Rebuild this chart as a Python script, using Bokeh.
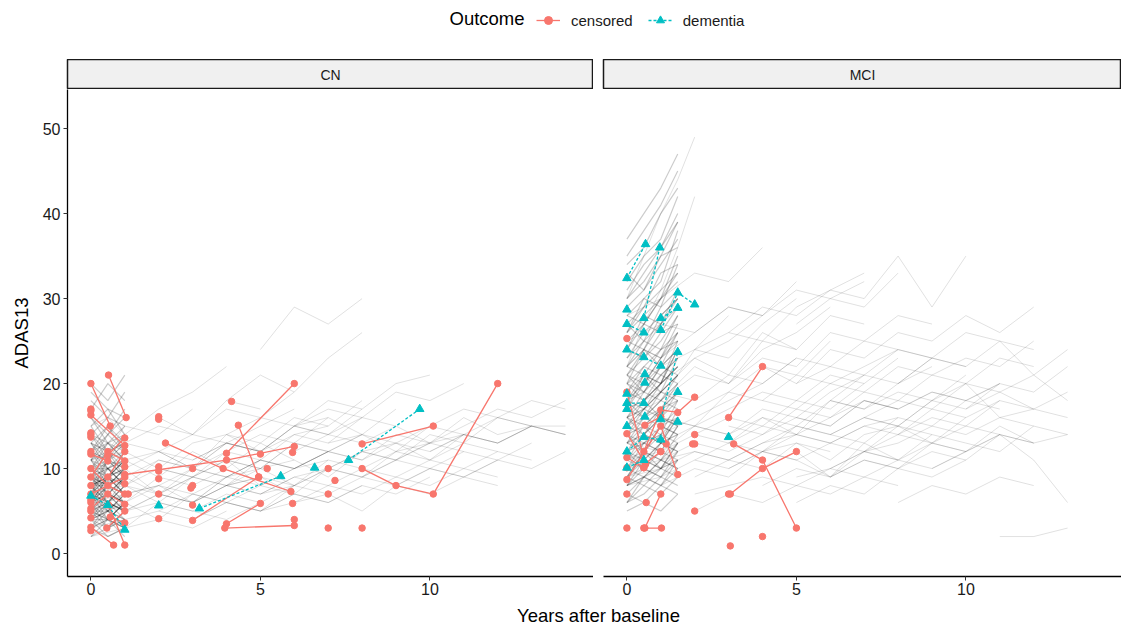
from bokeh.plotting import figure
from bokeh.models import Range1d, FixedTicker, Label, Legend, LegendItem, ColumnDataSource
from bokeh.layouts import column, row
from bokeh.embed import file_html
from bokeh.resources import INLINE

FONT = "Liberation Sans"
RED = "#F8766D"
TEAL = "#00BFC4"

panels = ["CN", "MCI"]
legend_title = "Outcome"
outcomes = ["censored", "dementia"]
x_label = "Years after baseline"
y_label = "ADAS13"
x_ticks = [0, 5, 10]
y_ticks = [0, 10, 20, 30, 40, 50]

# ---------------- background (all subjects) trajectories ----------------
visit_times = [0, 0.5, 1.0, 1.5]

cn_gray_short = [
    [6, 7, 5], [8, 9, 10], [4, 5, 3], [12, 10, 11], [9, 8, 9], [7, 6, 8], [5, 4, 6], [10, 12, 9],
    [14, 12, 13], [3, 4, 2], [6, 8, 7], [11, 9, 12], [8, 7, 6], [5, 7, 5], [9, 11, 10], [13, 15, 12],
    [7, 5, 7], [4, 3, 5], [16, 13, 14], [10, 8, 7], [6, 5, 4], [8, 10, 8], [12, 14, 16], [5, 6, 7],
    [9, 7, 9], [3, 5, 4], [7, 9, 11], [11, 10, 8], [6, 4, 6], [18, 16, 19], [8, 6, 9], [10, 11, 13],
    [4, 6, 5], [7, 8, 7], [15, 17, 14], [5, 3, 4], [9, 10, 8], [12, 11, 9], [6, 7, 6], [2, 3, 4],
    [17, 20, 18], [8, 9, 7], [11, 13, 12], [5, 5, 6], [7, 10, 9], [13, 11, 14], [4, 4, 3], [9, 6, 8],
    [20, 18, 21], [6, 9, 8], [10, 9, 11], [3, 2, 3], [14, 16, 15], [7, 7, 9], [8, 11, 10], [12, 9, 10],
    [7, 9, 8], [10, 7, 9], [5, 8, 6], [12, 13, 15], [8, 6, 5], [6, 6, 8], [9, 12, 11], [4, 7, 6],
    [11, 8, 10], [14, 13, 11], [3, 6, 5], [7, 4, 6], [10, 10, 12], [6, 9, 7], [13, 10, 11], [8, 8, 10],
    [5, 4, 3], [16, 14, 17], [9, 9, 7], [2, 4, 3], [11, 12, 10], [7, 6, 5], [15, 12, 13], [6, 8, 9],
    [8, 5, 7], [12, 15, 13], [4, 5, 7], [10, 13, 11], [9, 7, 6], [5, 6, 4], [19, 17, 16], [7, 11, 9],
    [3, 4, 6], [13, 12, 14], [8, 9, 11], [6, 3, 5], [11, 14, 12], [4, 2, 3], [9, 8, 10], [14, 11, 12],
]
cn_gray_long_t = [
    [0, 0.5, 1, 2, 3, 4], [0, 1, 2, 3, 4, 5, 6], [0, 0.5, 1, 2, 3, 4, 5, 6, 7], [0, 1, 2, 3],
    [0, 0.5, 1, 2, 3, 4, 5], [2, 3, 4, 5, 6, 7, 8], [0, 1, 2, 3, 4, 5, 6, 7, 8, 9, 10], [3, 4, 5, 6, 7],
    [0, 0.5, 1, 2, 3], [4, 5, 6, 7, 8, 9, 10, 11, 12], [0, 1, 2, 3, 4, 5, 6, 7, 8],
    [6, 7, 8, 9, 10, 11, 12, 13, 14], [0, 1, 2, 3, 4, 5], [2, 3, 4, 5, 6],
    [0, 1, 2, 3, 4, 5, 6, 7, 8, 9], [5, 6, 7, 8, 9, 10, 11, 12, 13, 14], [0, 0.5, 1, 2, 3, 4],
    [1, 2, 3, 4, 5, 6, 7], [3, 4, 5, 6, 7, 8, 9, 10], [0, 1, 2, 3, 4, 5, 6, 7], [5, 6, 7, 8],
    [7, 8, 9, 10, 11, 12, 13, 14], [0, 1, 2, 3, 4], [2, 3, 4, 5, 6, 7, 8, 9, 10, 11],
    [8, 9, 10, 11, 12, 13], [0, 0.5, 1, 2, 3, 4, 5, 6], [1, 2, 3, 4, 5, 6, 7, 8, 9, 10, 11, 12],
    [4, 5, 6, 7, 8, 9, 10], [9, 10, 11, 12, 13, 14], [0, 1, 2, 3, 4, 5, 6], [3, 4, 5, 6, 7, 8],
    [6, 7, 8, 9, 10, 11, 12], [0, 1, 2, 3, 4, 5, 6, 7, 8, 9, 10, 11], [2, 3, 4, 5],
    [10, 11, 12, 13, 14], [0, 0.5, 1, 2, 3, 4, 5, 6, 7], [5, 6, 7, 8, 9, 10, 11], [1, 2, 3, 4, 5, 6],
    [7, 8, 9, 10, 11, 12, 13], [0, 1, 2, 3, 4, 5, 6, 7, 8], [4, 5, 6, 7, 8], [11, 12, 13, 14],
    [0, 1, 2, 3, 4, 5, 6, 7, 8, 9, 10, 11, 12, 13], [1, 2, 3, 4, 5, 6, 7, 8], [3, 4, 5, 6, 7, 8, 9, 10, 11, 12, 13],
    [0, 0.5, 1, 2, 3, 4, 5], [2, 3, 4, 5, 6, 7, 8, 9], [5, 6, 7, 8, 9, 10, 11, 12], [0, 1, 2, 3, 4, 5, 6, 7],
    [4, 5, 6, 7, 8, 9, 10, 11, 12, 13, 14], [1, 2, 3, 4, 5], [6, 7, 8, 9, 10, 11],
]
cn_gray_long_v = [
    [7, 8, 6, 9, 8, 10], [5, 6, 4, 7, 6, 5, 8], [10, 9, 11, 12, 10, 13, 12, 14, 15], [8, 10, 7, 9],
    [4, 5, 3, 6, 5, 4, 6], [12, 10, 14, 13, 16, 15, 18], [6, 7, 8, 6, 9, 10, 8, 11, 10, 12, 13], [9, 11, 8, 10, 12],
    [13, 12, 15, 14, 17], [8, 9, 7, 10, 9, 12, 11, 13, 12], [3, 4, 5, 4, 6, 5, 7, 6, 8],
    [12, 14, 13, 15, 13, 16, 14, 15, 14], [9, 7, 8, 10, 9, 11], [5, 7, 6, 8, 7],
    [11, 12, 10, 13, 14, 12, 15, 16, 14, 17], [10, 11, 9, 12, 13, 11, 14, 13, 15, 15], [15, 16, 14, 17, 19, 22],
    [6, 8, 7, 9, 11, 10, 12], [4, 6, 5, 7, 6, 8, 7, 9], [8, 9, 11, 10, 12, 14, 13, 16], [24, 29, 27, 30],
    [13, 14, 12, 15, 17, 16, 18, 17], [2, 3, 4, 3, 5], [7, 6, 8, 9, 8, 10, 12, 11, 13, 14],
    [9, 11, 10, 12, 11, 13], [12, 11, 13, 12, 14, 13, 15, 17], [5, 6, 5, 7, 6, 8, 7, 9, 8, 10, 9, 11],
    [14, 16, 15, 18, 17, 20, 21], [8, 10, 9, 11, 10, 12], [10, 11, 9, 12, 10, 13, 11], [11, 13, 12, 15, 14, 17],
    [6, 7, 5, 8, 7, 9, 8], [7, 8, 6, 9, 8, 11, 10, 12, 11, 14, 13, 15], [16, 14, 18, 17],
    [12, 14, 13, 15, 14], [4, 6, 5, 7, 6, 9, 8, 10, 11], [7, 8, 10, 9, 11, 13, 12], [13, 15, 14, 17, 16, 19],
    [10, 12, 11, 14, 13, 16, 15], [9, 8, 10, 9, 11, 10, 13, 12, 14], [18, 21, 19, 23, 26], [15, 17, 16, 18],
    [8, 9, 7, 10, 9, 11, 10, 12, 11, 13, 12, 14, 13, 15], [10, 12, 11, 13, 12, 15, 14, 16], [6, 8, 7, 9, 8, 10, 9, 11, 10, 12, 11],
    [9, 10, 8, 11, 10, 13, 12], [10, 9, 12, 11, 14, 13, 16, 15], [5, 6, 8, 7, 9, 8, 10, 9], [6, 5, 7, 6, 8, 7, 9, 10],
    [11, 10, 13, 12, 14, 13, 15, 14, 16, 15, 14], [8, 7, 9, 8, 10], [15, 17, 16, 19, 18, 20],
]

mci_gray_short = [
    [15, 18, 20, 22], [10, 12, 11, 13], [20, 24, 28, 30], [8, 9, 10, 9], [25, 27, 30, 35], [12, 14, 13, 16],
    [18, 17, 19, 21], [6, 8, 7, 9], [22, 25, 24, 28], [14, 13, 15, 14], [30, 33, 36, 40], [9, 11, 10, 12],
    [16, 19, 18, 20], [11, 10, 12, 11], [28, 30, 32, 38], [13, 15, 17, 19], [19, 21, 20, 24], [7, 6, 8, 7],
    [24, 23, 26, 27], [17, 18, 16, 19], [35, 38, 41, 45], [10, 13, 12, 15], [21, 20, 23, 25], [12, 11, 13, 12],
    [16, 15, 17, 18], [26, 29, 31, 33], [9, 8, 10, 11], [18, 20, 22, 21], [14, 16, 15, 17], [32, 35, 37, 42],
    [8, 10, 9, 11], [20, 22, 21, 23], [15, 14, 16, 15], [23, 26, 28, 30], [11, 13, 14, 16], [27, 25, 29, 31],
    [13, 12, 14, 13], [19, 18, 20, 22], [6, 7, 9, 8], [17, 20, 23, 26], [22, 21, 24, 25], [10, 9, 11, 10],
    [29, 31, 34, 37], [14, 15, 13, 16], [16, 18, 20, 24], [5, 6, 5, 7], [21, 24, 22, 26], [12, 15, 14, 18],
    [33, 31, 35, 39], [18, 16, 17, 20], [9, 12, 11, 14], [24, 27, 26, 29],
    [13, 16, 18, 21], [20, 19, 22, 24], [8, 11, 10, 13], [26, 28, 27, 31], [15, 17, 16, 18], [11, 12, 15, 14],
    [31, 34, 36, 39], [18, 21, 19, 23], [9, 10, 9, 12], [23, 25, 27, 29], [14, 17, 19, 18], [7, 9, 8, 11],
    [27, 29, 33, 34], [16, 14, 17, 19], [12, 13, 12, 15], [21, 23, 25, 28], [10, 11, 13, 12], [34, 36, 40, 43],
    [17, 16, 18, 17], [25, 24, 27, 30], [13, 14, 16, 15], [19, 22, 24, 26], [6, 9, 8, 10], [22, 24, 23, 27],
    [15, 16, 19, 21], [28, 27, 30, 32], [11, 14, 13, 17], [18, 19, 21, 20], [24, 28, 30, 33], [9, 12, 10, 13],
    [20, 18, 21, 23], [14, 12, 15, 16], [30, 32, 35, 36], [12, 10, 13, 14], [16, 17, 20, 22], [26, 30, 29, 34],
    [8, 9, 11, 10], [21, 19, 22, 24], [17, 21, 20, 25], [37, 40, 43, 47],
]
mci_gray_long_t = [
    [0, 0.5, 1, 1.5, 2, 3], [0, 0.5, 1, 2, 3, 4, 5], [0, 1, 2, 3, 4, 5, 6, 7, 8], [1, 2, 3, 4, 5],
    [0, 0.5, 1, 1.5, 2], [2, 3, 4, 5, 6, 7], [0, 1, 2, 3, 4, 5, 6, 7, 8, 9, 10], [3, 4, 5, 6, 7, 8, 9],
    [4, 5, 6, 7, 8, 9, 10, 11], [0, 1, 2, 3, 4, 5, 6], [5, 6, 7, 8, 9, 10, 11, 12],
    [2, 3, 4, 5, 6, 7, 8, 9, 10], [6, 7, 8, 9, 10], [8, 9, 10, 11, 12, 13], [0, 1, 2, 3, 4, 5],
    [1, 2, 3, 4, 5, 6, 7, 8], [7, 8, 9, 10], [9, 10, 11, 12, 13], [10, 11, 12], [9, 10, 11, 12],
    [0, 0.5, 1, 2, 3, 4, 5, 6, 7, 8], [3, 4, 5, 6, 7, 8, 9, 10, 11], [0, 1, 2, 3, 4, 5, 6, 7],
    [5, 6, 7, 8, 9, 10, 11, 12, 13], [0, 0.5, 1, 2, 3, 4], [2, 3, 4, 5, 6, 7, 8], [4, 5, 6, 7, 8, 9],
    [1, 2, 3, 4, 5, 6, 7, 8, 9, 10], [6, 7, 8, 9, 10, 11, 12], [0, 1, 2, 3, 4, 5, 6, 7, 8, 9],
    [3, 4, 5, 6, 7], [7, 8, 9, 10, 11, 12, 13], [0, 1, 2, 3, 4], [8, 9, 10, 11, 12],
    [2, 3, 4, 5, 6, 7, 8, 9], [10, 11, 12, 13], [5, 6, 7, 8], [0, 1, 2, 3, 4, 5, 6, 7, 8, 9, 10, 11],
    [4, 5, 6, 7, 8, 9, 10], [11, 12, 13], [0, 0.5, 1, 1.5, 2],
    [0, 1, 2, 3, 4, 5, 6], [2, 3, 4, 5, 6, 7, 8, 9, 10, 11], [1, 2, 3, 4, 5, 6, 7],
    [3, 4, 5, 6, 7, 8, 9, 10, 11, 12], [4, 5, 6, 7, 8], [0, 0.5, 1, 2, 3, 4, 5], [5, 6, 7, 8, 9, 10, 11, 12],
    [6, 7, 8, 9, 10, 11], [2, 3, 4, 5, 6, 7], [7, 8, 9, 10, 11, 12, 13], [1, 2, 3, 4, 5, 6, 7, 8, 9],
    [3, 4, 5, 6, 7, 8, 9], [0, 1, 2, 3, 4, 5, 6, 7, 8], [8, 9, 10, 11, 12, 13], [4, 5, 6, 7, 8, 9, 10, 11, 12],
    [5, 6, 7, 8, 9, 10], [9, 10, 11, 12], [2, 3, 4, 5, 6], [6, 7, 8, 9, 10, 11, 12, 13], [0, 1, 2, 3, 4, 5, 6, 7],
]
mci_gray_long_v = [
    [15, 17, 19, 21, 24, 28], [12, 13, 14, 16, 18, 20, 23], [10, 11, 12, 11, 13, 14, 13, 15, 16], [18, 22, 20, 25, 24],
    [30, 35, 40, 44, 49], [14, 16, 15, 18, 17, 20], [8, 9, 11, 10, 12, 13, 11, 14, 15, 13, 16], [20, 23, 22, 26, 25, 28, 27],
    [12, 14, 13, 15, 14, 17, 16, 18], [16, 18, 21, 20, 24, 26, 29], [9, 10, 12, 11, 13, 12, 14, 13],
    [7, 8, 9, 8, 10, 9, 11, 10, 12], [18, 21, 20, 23, 22], [14, 16, 15, 18, 17, 16], [20, 22, 24, 23, 27, 30],
    [11, 13, 12, 14, 16, 15, 18, 17], [30, 35, 29, 35], [10, 12, 14, 11, 6], [17, 19, 17], [18, 20, 16, 15],
    [13, 14, 16, 15, 17, 19, 18, 21, 20, 23], [10, 12, 11, 9, 12, 14, 13, 15, 14], [25, 27, 26, 29, 28, 31, 30, 32],
    [16, 15, 18, 17, 19, 18, 20, 19, 22], [18, 20, 19, 23, 25, 28], [5, 7, 6, 8, 7, 9, 8], [22, 20, 24, 23, 26, 25],
    [13, 15, 14, 16, 15, 18, 17, 19, 18, 21], [9, 11, 10, 12, 11, 14, 13], [9, 10, 12, 11, 13, 15, 14, 16, 15, 18],
    [26, 29, 28, 31, 33], [12, 13, 15, 14, 16, 17, 19], [28, 30, 33, 32, 36], [6, 8, 7, 9, 8],
    [17, 19, 18, 21, 20, 22, 24, 23], [12, 15, 13, 14], [27, 30, 29, 33], [11, 12, 14, 13, 15, 14, 16, 18, 17, 19, 18, 20],
    [8, 10, 9, 11, 10, 13, 12], [2, 2, 3], [22, 27, 31, 36, 42],
    [14, 16, 15, 19, 22, 21, 25], [11, 13, 12, 15, 14, 16, 15, 18, 17, 20], [20, 23, 21, 26, 24, 28, 27],
    [15, 14, 17, 16, 19, 18, 21, 20, 23, 22], [10, 12, 9, 13, 11], [22, 24, 23, 26, 29, 28, 32], [20, 22, 21, 24, 23, 26, 25, 24],
    [14, 13, 16, 15, 18, 17], [24, 26, 25, 29, 31, 30], [16, 18, 17, 20, 19, 21, 18], [8, 10, 9, 12, 11, 13, 12, 15, 14],
    [13, 16, 14, 18, 17, 20, 22], [17, 19, 18, 21, 20, 23, 22, 25, 24], [20, 23, 22, 25, 21, 24], [18, 17, 20, 19, 22, 21, 23, 22, 25],
    [6, 8, 7, 10, 9, 11], [25, 28, 26, 29], [9, 11, 10, 13, 12], [10, 12, 11, 14, 13, 12, 15, 14], [13, 12, 15, 14, 17, 16, 19, 21],
]

# ---------------- highlighted subjects ----------------
cn_cens_t = [
    [0, 0.57], [0.52, 1.04], [0, 1.0], [1.0, 4.0, 6.0], [4.0, 6.0], [2.2, 3.9, 5.9], [4.35, 4.95],
    [3.0, 4.95], [4.0, 5.0], [3.95, 6.0], [8.0, 10.1], [8.0, 9.0, 10.1, 12.0], [0, 0.67],
    [0, 0.5, 1.0], [0, 0.5], [0, 0.5, 1.0], [0, 1.0], [0, 0.5, 1.0], [0.5, 1.0], [0.5, 1.0],
    [0.47, 1.0], [0.57, 1.0], [0.52, 1.0],
]
cn_cens_v = [
    [20.0, 15.0], [21.0, 16.0], [16.3, 12.7], [9.3, 11.0, 12.6], [11.8, 20.0], [13.0, 10.0, 7.3], [15.1, 9.0],
    [3.9, 9.0], [3.5, 5.9], [3.0, 3.3], [12.9, 15.0], [10.0, 8.0, 7.0, 20.0], [3.1, 1.0],
    [9.0, 12.0, 10.9], [11.7, 10.9], [10.0, 8.0, 7.0], [7.0, 9.0], [5.3, 7.0, 5.8], [11.6, 13.6], [9.0, 12.0],
    [3.0, 5.0], [4.3, 3.6], [5.7, 1.0],
]
cn_cens_single_t = [0, 0, 0, 0, 0, 0, 0, 0, 0, 0, 0, 0, 1.0, 1.0, 1.1, 2.0, 2.0, 2.0, 2.0, 2.0, 2.0, 2.0,
                    3.0, 3.0, 2.95, 3.0, 4.15, 5.0, 5.2, 5.95, 5.95, 6.0, 7.0, 7.2, 7.0, 7.0, 8.0]
cn_cens_single_v = [17.0, 14.0, 13.7, 12.0, 8.0, 6.3, 6.0, 5.0, 4.2, 2.7, 14.2, 16.8, 10.2, 8.2, 7.0, 16.1, 15.8, 10.2, 9.7,
                    8.8, 7.0, 4.1, 10.0, 8.0, 7.7, 5.7, 17.9, 11.7, 10.0, 11.9, 5.9, 4.0, 10.0, 8.6, 7.0, 3.0, 3.0]
cn_dem_t = [[0, 0.5, 1.0], [2.0], [3.2, 5.6], [6.6], [7.6, 9.7]]
cn_dem_v = [[6.8, 5.7, 2.8], [5.65], [5.3, 9.1], [10.1], [11.0, 17.0]]

mci_cens_t = [
    [3.0, 4.0], [3.15, 4.0, 5.0], [3.05, 4.0, 5.0], [0, 0.55], [0, 0.55, 1.0], [0.5, 1.0, 1.5, 2.0],
    [0, 1.0, 1.5], [0.53, 1.0], [0.5, 1.02], [0, 0.5], [0.53, 1.0],
]
mci_cens_v = [
    [16.0, 22.0], [12.9, 11.0, 3.0], [7.0, 10.0, 12.0], [19.0, 10.5], [14.1, 10.6, 12.0], [12.0, 16.9, 16.6, 18.4],
    [8.7, 15.0, 9.3], [3.0, 7.0], [3.0, 3.0], [11.3, 10.1], [15.1, 16.1],
]
mci_cens_single_t = [3.0, 4.0, 3.05, 0, 0, 0, 0, 0.57, 1.16, 1.94, 2.0, 2.0, 2.0, 1.0, 0.5]
mci_cens_single_v = [7.0, 2.0, 0.9, 25.3, 3.0, 7.0, 10.1, 6.0, 12.9, 12.9, 14.0, 5.0, 12.9, 12.0, 10.1]
mci_dem_t = [
    [0, 0.55], [0.5, 0.97], [1.0, 1.5, 2.0], [1.0, 1.5], [0, 0.5, 1.0], [0, 0.5], [0],
    [1.0, 1.5], [1.5], [1.5], [0, 0.5], [0, 0.5, 1.0], [0], [0], [0], [0.53], [0.53], [0.53], [0, 0.5], [3.0],
]
mci_dem_v = [
    [32.4, 36.4], [27.7, 36.0], [26.3, 30.7, 29.3], [27.7, 28.9], [24.0, 23.1, 22.1], [27.0, 26.0], [28.7],
    [15.8, 23.7], [19.0], [15.5], [17.7, 17.7], [12.0, 13.7, 13.4], [18.8], [17.0], [15.0], [20.1], [21.1], [16.1],
    [10.1, 11.0], [13.7],
]

X0 = -0.69
Y_RANGE = Range1d(-2.7, 54.6)


def flat(lists):
    return [v for l in lists for v in l]


def make_panel(name, g_short, g_lt, g_lv, c_t, c_v, cs_t, cs_v, d_t, d_v, width, left_border, show_y):
    frame_w = width - left_border
    x_end = X0 + frame_w / 33.9
    p = figure(width=width, height=513, x_range=Range1d(X0, x_end), y_range=Y_RANGE,
               output_backend="svg", toolbar_location=None,
               min_border_left=left_border, min_border_right=0, min_border_top=0, min_border_bottom=26)
    p.outline_line_color = None
    p.background_fill_color = "white"
    p.border_fill_color = "white"
    p.xgrid.visible = False
    p.ygrid.visible = False

    # background trajectories (dense early-visit bundle and longer follow-ups)
    p.multi_line(xs=[visit_times[:len(v)] for v in g_short], ys=list(g_short),
                 line_color="black", line_alpha=0.2, line_width=1.2)
    p.multi_line(xs=g_lt, ys=g_lv, line_color="black", line_alpha=0.12, line_width=1)

    # highlighted censored
    p.multi_line(xs=[t for t in c_t if len(t) > 1], ys=[v for t, v in zip(c_t, c_v) if len(t) > 1],
                 line_color=RED, line_width=1.3)
    p.scatter(flat(c_t) + cs_t, flat(c_v) + cs_v, marker="circle", size=6.5,
              fill_color=RED, line_color=RED)
    # highlighted dementia
    p.multi_line(xs=[t for t in d_t if len(t) > 1], ys=[v for t, v in zip(d_t, d_v) if len(t) > 1],
                 line_color=TEAL, line_width=1.3, line_dash="3 2")
    p.scatter(flat(d_t), flat(d_v), marker="triangle", size=8.5,
              fill_color=TEAL, line_color=TEAL)

    p.xaxis.ticker = FixedTicker(ticks=x_ticks)
    p.yaxis.ticker = FixedTicker(ticks=y_ticks)
    for ax in p.axis:
        ax.axis_line_color = "black"
        ax.axis_line_width = 1.3
        ax.major_tick_line_color = "#333333"
        ax.major_tick_out = 4
        ax.major_tick_in = 0
        ax.minor_tick_line_color = None
        ax.major_label_text_font = FONT
        ax.major_label_text_font_size = "16px"
        ax.major_label_text_color = "#1A1A1A"
    p.xaxis.major_label_standoff = 2
    if show_y:
        p.yaxis.axis_label = y_label
        p.yaxis.axis_label_text_font = FONT
        p.yaxis.axis_label_text_font_size = "18.5px"
        p.yaxis.axis_label_text_font_style = "normal"
        p.yaxis.axis_label_text_color = "black"
        p.yaxis.axis_label_standoff = 8
        p.yaxis.major_label_standoff = 3
    else:
        p.yaxis.visible = False

    strip = figure(width=width, height=30, x_range=Range1d(0, 1), y_range=Range1d(0, 1),
                   output_backend="svg", toolbar_location=None,
                   min_border_left=left_border, min_border_right=0, min_border_top=0, min_border_bottom=0)
    strip.axis.visible = False
    strip.xgrid.visible = False
    strip.ygrid.visible = False
    strip.background_fill_color = "#F0F0F0"
    strip.border_fill_color = "white"
    strip.outline_line_color = "#1A1A1A"
    strip.outline_line_width = 1.5
    strip.add_layout(Label(x=0.5, y=0.5, text=name, text_align="center", text_baseline="middle",
                           text_font=FONT, text_font_size="14px", text_color="#1A1A1A"))
    return column(strip, p, spacing=0)


left = make_panel(panels[0], cn_gray_short, cn_gray_long_t, cn_gray_long_v, cn_cens_t, cn_cens_v,
                  cn_cens_single_t, cn_cens_single_v, cn_dem_t, cn_dem_v, 593, 67, True)
right = make_panel(panels[1], mci_gray_short, mci_gray_long_t, mci_gray_long_v, mci_cens_t, mci_cens_v,
                   mci_cens_single_t, mci_cens_single_v, mci_dem_t, mci_dem_v, 528, 10, False)

# legend strip
lg = figure(width=1121, height=59, x_range=Range1d(0, 1121), y_range=Range1d(0, 59),
            output_backend="svg", toolbar_location=None,
            min_border_left=0, min_border_right=0, min_border_top=0, min_border_bottom=0)
lg.axis.visible = False
lg.xgrid.visible = False
lg.ygrid.visible = False
lg.outline_line_color = None
offscreen = ColumnDataSource(data=dict(x=[-100, -90], y=[-100, -100]))
l1 = lg.line("x", "y", source=offscreen, line_color=RED, line_width=1.3)
s1 = lg.scatter("x", "y", source=offscreen, marker="circle", size=6.5, fill_color=RED, line_color=RED)
l2 = lg.line("x", "y", source=offscreen, line_color=TEAL, line_width=1.3, line_dash="3 2")
s2 = lg.scatter("x", "y", source=offscreen, marker="triangle", size=8.5, fill_color=TEAL, line_color=TEAL)
legend = Legend(items=[LegendItem(label=outcomes[0], renderers=[l1, s1]),
                       LegendItem(label=outcomes[1], renderers=[l2, s2])],
                orientation="horizontal", location=(536, 29), padding=0, margin=0, spacing=15,
                glyph_width=24, glyph_height=20, label_standoff=11, label_height=20,
                label_text_font=FONT, label_text_font_size="15px", label_text_color="#1A1A1A",
                background_fill_alpha=0, border_line_color=None)
lg.add_layout(legend, "center")
lg.add_layout(Label(x=449, y=41, text=legend_title, text_baseline="middle", x_units="screen", y_units="screen",
                    text_font=FONT, text_font_size="18.5px", text_color="black"))

xl = figure(width=1121, height=27, x_range=Range1d(0, 1121), y_range=Range1d(0, 27),
            output_backend="svg", toolbar_location=None,
            min_border_left=0, min_border_right=0, min_border_top=0, min_border_bottom=0)
xl.axis.visible = False
xl.xgrid.visible = False
xl.ygrid.visible = False
xl.outline_line_color = None
xl.add_layout(Label(x=598, y=14, text=x_label, text_align="center", text_baseline="middle",
                    x_units="screen", y_units="screen",
                    text_font=FONT, text_font_size="18.5px", text_color="black"))

layout = column(lg, row(left, right, spacing=0), xl, spacing=0)
open("out.html", "w").write(file_html(layout, INLINE))
